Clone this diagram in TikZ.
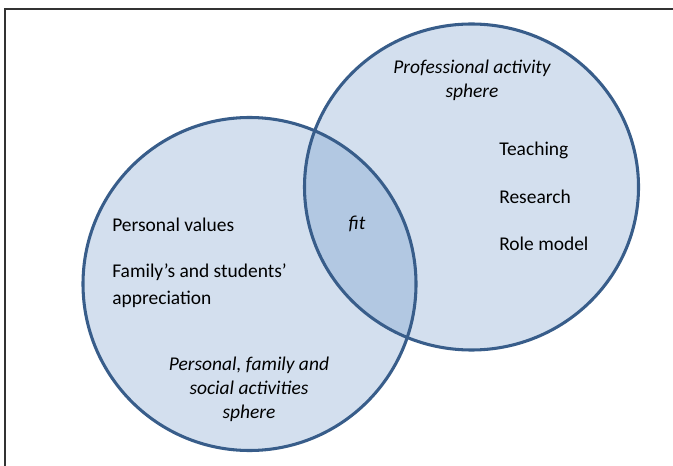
\documentclass[tikz,border=0pt]{standalone}
\usepackage{fontspec}
\setmainfont{Carlito}
\usepackage{tikz}
\usetikzlibrary{positioning}

\definecolor{sphereFill}{HTML}{4F81BD}
\definecolor{sphereLine}{HTML}{385D8A}
\tikzset{
	spherefill/.style={fill=sphereFill, fill opacity=0.25},
	sphereline/.style={draw=sphereLine, line width=2.3pt},
	txt/.style={font=\fontsize{14.6}{20.25}\selectfont, inner sep=0pt},
	title/.style={font=\fontsize{14.6}{18}\selectfont\itshape, align=center, inner sep=0pt}
}

\begin{document}
\begin{tikzpicture}[x=0.75pt,y=-0.75pt]
		\useasboundingbox (0,0) rectangle (673,466);
		\draw[line width=0.9pt, black!80] (673,9) -- (5,9) -- (5,466);

		% the two spheres
		\fill[spherefill] (249.5,284) circle [radius=166.5];
		\fill[spherefill] (471.5,187) ellipse [x radius=167, y radius=163];
		\draw[sphereline] (249.5,284) circle [radius=166.5];
		\draw[sphereline] (471.5,187) ellipse [x radius=167, y radius=163];

		\node[title] (proftitle) at (472,80) {Professional activity\\sphere};
		\node[txt, anchor=west] (teaching) at (499,150.5) {Teaching};
		\node[txt, anchor=west] (research) at (499,196.5) {Research};
		\node[txt, anchor=west] (rolemodel) at (499,243.5) {Role model};

		\node[txt, anchor=west] (values) at (112,224.5) {Personal values};
		\node[txt, anchor=west, align=left] (appreciation) at (112,285.5) {Family's and students'\\appreciation};
		\node[title] (perstitle) at (249,389.5) {Personal, family and\\social activities\\sphere};

		\node[txt, font=\fontsize{14.6}{20.25}\selectfont\itshape] (fit) at (357,223.5) {fit};
	\end{tikzpicture}
\end{document}
